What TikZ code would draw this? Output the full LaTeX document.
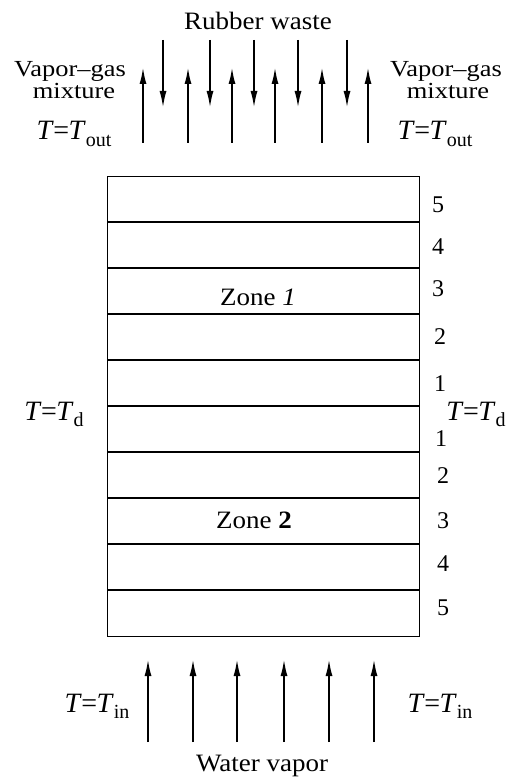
\documentclass[tikz,border=0pt]{standalone}
\usepackage{fontspec}
\setmainfont{Liberation Serif}
\usetikzlibrary{arrows.meta}
\newcommand\wide[1]{\scalebox{1.08}[1]{#1}}
\newcommand\wider[1]{\scalebox{1.15}[1]{#1}}
\newcommand\lowsub[1]{\raisebox{-0.22em}{\fontsize{20}{20}\selectfont #1}}
\newcommand\TT[1]{\textit{T}\kern-0.5pt=\kern-0.5pt\textit{T}\lowsub{#1}}
\begin{document}
\begin{tikzpicture}[x=1pt,y=-1pt,
  txt/.style={font=\fontsize{25}{27}\selectfont, inner sep=0pt, anchor=base},
  side/.style={font=\fontsize{23}{25}\selectfont, inner sep=0pt, anchor=base},
  tlab/.style={font=\fontsize{28}{30}\selectfont, inner sep=0pt, anchor=base},
  num/.style={font=\fontsize{24}{26}\selectfont, inner sep=0pt, anchor=base},
  flow/.style={line width=2pt, -{Latex[length=17pt,width=7pt]}},
  wall/.style={line width=1.3pt},
  layer/.style={line width=1.3pt}]
\useasboundingbox (0,0) rectangle (510,778);
% box
\node[draw, wall, minimum width=312pt, minimum height=460pt, inner sep=0pt, anchor=north west] (box) at (107,176) {};
\foreach \i in {1,2,3,4,6,7,8,9}{
  \coordinate (l\i) at (107,{176+46*\i});
  \coordinate (r\i) at (419,{176+46*\i});
  \draw[layer] (l\i) -- (r\i);
}
\coordinate (l5) at (107,406);
\coordinate (r5) at (419,406);
\draw[line width=1.8pt] (l5) -- (r5);
% layer numbers
\node[num] (n5a) at (438,212) {5};
\node[num] (n4a) at (438,254) {4};
\node[num] (n3a) at (438,296) {3};
\node[num] (n2a) at (440,344) {2};
\node[num] (n1a) at (440,391) {1};
\node[num] (n1b) at (441,446) {1};
\node[num] (n2b) at (443,483) {2};
\node[num] (n3b) at (443,528) {3};
\node[num] (n4b) at (443,571) {4};
\node[num] (n5b) at (443,615) {5};
% zone labels
\node[txt] (z1) at (258,305) {\wide{Zone \textit{1}}};
\node[txt] (z2) at (254,528) {\wide{Zone \textbf{2}}};
% Td labels
\node[tlab] (tdl) at (54,420) {\TT{d}};
\node[tlab] (tdr) at (476,420) {\TT{d}};
% top texts
\node[txt] (rw) at (258,30) {\wide{Rubber waste}};
\node[side] (vgl) at (70,77) {\wider{Vapor–gas}};
\node[side] (mxl) at (74,99) {\wider{mixture}};
\node[tlab] (tol) at (74,140) {\TT{out}};
\node[side] (vgr) at (446,77) {\wider{Vapor–gas}};
\node[side] (mxr) at (448,99) {\wider{mixture}};
\node[tlab] (tor) at (435,140) {\TT{out}};
% top arrows
\foreach \x [count=\k] in {143,188,232,275,322,368}{
  \coordinate (ua\k) at (\x,143);
  \coordinate (ub\k) at (\x,67);
  \draw[flow] (ua\k) -- (ub\k);
}
\foreach \x [count=\k] in {163,210,254,298,347}{
  \coordinate (da\k) at (\x,40);
  \coordinate (db\k) at (\x,108);
  \draw[flow] (da\k) -- (db\k);
}
% bottom arrows
\foreach \x [count=\k] in {148,193,237,284,329,374}{
  \coordinate (wa\k) at (\x,742);
  \coordinate (wb\k) at (\x,659);
  \draw[flow] (wa\k) -- (wb\k);
}
\node[tlab] (til) at (97,712) {\TT{in}};
\node[tlab] (tir) at (440,712) {\TT{in}};
\node[txt] (wv) at (262,771) {\wide{Water vapor}};
\end{tikzpicture}
\end{document}
